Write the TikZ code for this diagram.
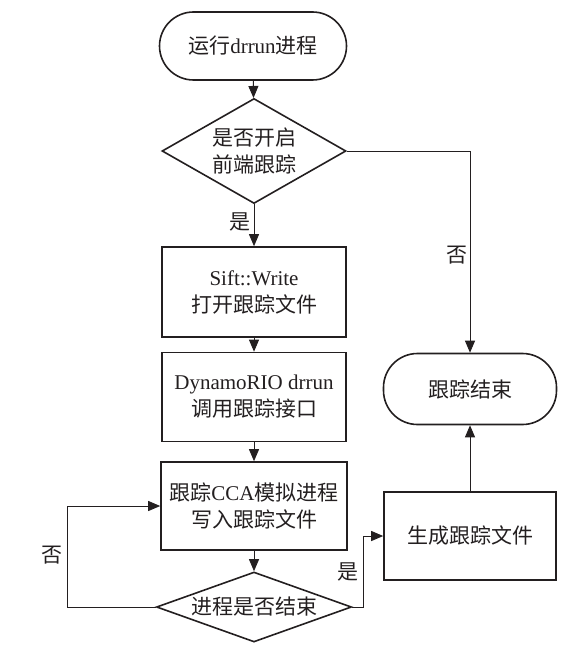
\documentclass[tikz,border=0pt]{standalone}
\usepackage{fontspec}
\setmainfont{Liberation Serif}
\newfontfamily\cjk{Noto Sans CJK SC}
\usetikzlibrary{shapes.geometric,arrows.meta}
\definecolor{ink}{HTML}{231F20}
\tikzset{
  base/.style={draw=ink, line width=1.6pt, text=ink, align=center, inner sep=0pt,
    font=\fontsize{21}{27}\selectfont},
  term/.style={base, rectangle, rounded corners=34pt},
  procbox/.style={base, rectangle},
  decide/.style={base, diamond},
  conn/.style={draw=ink, line width=0.9pt, -{Triangle[length=12pt,width=10pt]}},
  lab/.style={text=ink, inner sep=0pt, font=\fontsize{21}{27}\selectfont\cjk},
}
\begin{document}
\begin{tikzpicture}[x=1pt,y=-1pt]
\useasboundingbox (0,0) rectangle (574,652);
\node[term, minimum width=187pt, minimum height=68pt] (start) at (253,46) {{\cjk 运行}drrun{\cjk 进程}};
\node[decide, aspect=1.75, minimum width=184pt, minimum height=105pt] (d1) at (254,151) {{\cjk 是否开启}\\{\cjk 前端跟踪}};
\node[procbox, minimum width=184pt, minimum height=90pt] (b1) at (254,292) {Sift::Write\\{\cjk 打开跟踪文件}};
\node[procbox, minimum width=184pt, minimum height=89pt] (b2) at (254,397) {DynamoRIO drrun\\{\cjk 调用跟踪接口}};
\node[procbox, minimum width=186pt, minimum height=88pt] (b3) at (254,506) {{\cjk 跟踪}CCA{\cjk 模拟进程}\\{\cjk 写入跟踪文件}};
\node[decide, aspect=2.79, minimum width=195pt, minimum height=70pt] (d2) at (254,607) {{\cjk 进程是否结束}};
\node[procbox, minimum width=172pt, minimum height=88pt] (b4) at (470,536) {{\cjk 生成跟踪文件}};
\node[term, minimum width=173pt, minimum height=71pt] (end) at (470,389) {{\cjk 跟踪结束}};
\coordinate (c1) at (470,151);
\coordinate (c2) at (67,607);
\coordinate (c3) at (67,506);
\coordinate (c4) at (363,607);
\coordinate (c5) at (363,536);

\draw[conn] (start) -- (d1);
\draw[conn] (d1) -- (b1);
\draw[conn] (b1) -- (b2);
\draw[conn] (b2) -- (b3);
\draw[conn] (b3) -- (d2);
\draw[conn] (d1.east) -- (c1) -- (end.north);
\draw[conn] (d2.west) -- (c2) -- (c3) -- (b3.west);
\draw[conn] (d2.east) -- (c4) -- (c5) -- (b4.west);
\draw[conn] (b4) -- (end);

\node[lab] (l1) at (240,222) {是};
\node[lab] (l2) at (457,255) {否};
\node[lab] (l3) at (52,555) {否};
\node[lab] (l4) at (348,572) {是};
\end{tikzpicture}
\end{document}
